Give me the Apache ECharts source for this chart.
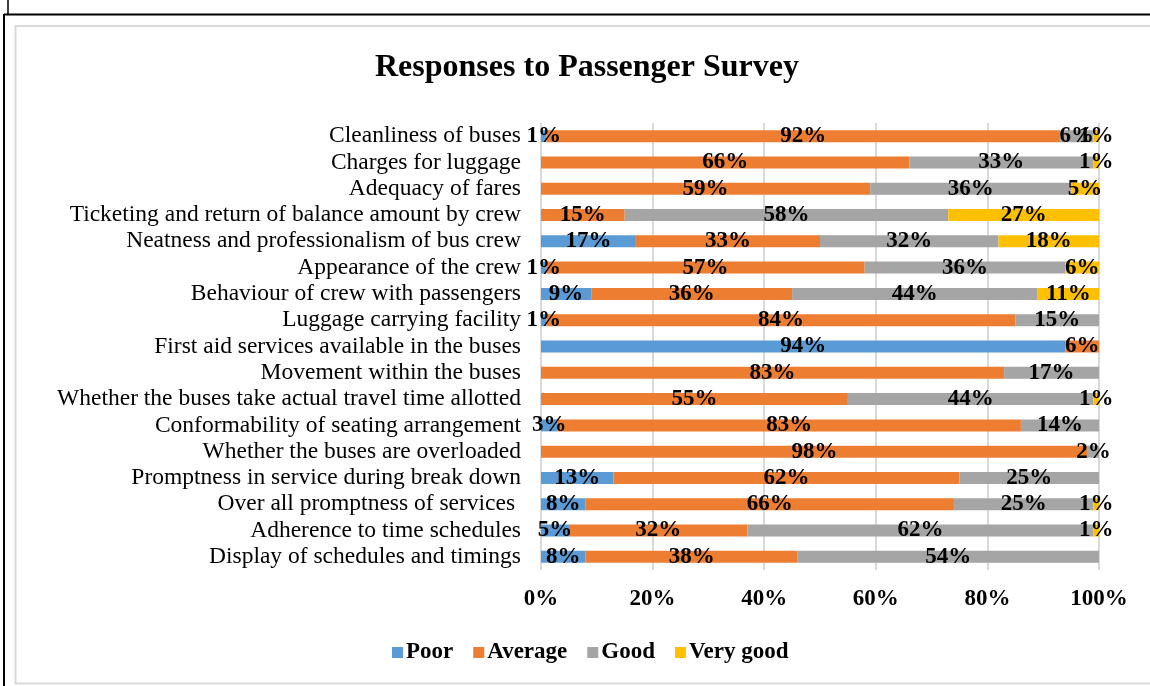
<!DOCTYPE html>
<html>
<head>
<meta charset="utf-8">
<script src="https://cdn.jsdelivr.net/npm/echarts@6/dist/echarts.min.js"></script>
<style>
  html, body { margin: 0; padding: 0; background: #fff; }
  #chart { width: 1150px; height: 686px; }
</style>
</head>
<body>
<div id="chart"></div>
<script>
const categories = [
  "Cleanliness of buses",
  "Charges for luggage",
  "Adequacy of fares",
  "Ticketing and return of balance amount by crew",
  "Neatness and professionalism of bus crew",
  "Appearance of the crew",
  "Behaviour of crew with passengers",
  "Luggage carrying facility",
  "First aid services available in the buses",
  "Movement within the buses",
  "Whether the buses take actual travel time allotted",
  "Conformability of seating arrangement",
  "Whether the buses are overloaded",
  "Promptness in service during break down",
  "Over all promptness of services ",
  "Adherence to time schedules",
  "Display of schedules and timings"
]
const poor     = [1, 0, 0, 0, 17, 1, 9, 1, 94, 0, 0, 3, 0, 13, 8, 5, 8]
const average  = [92, 66, 59, 15, 33, 57, 36, 84, 6, 83, 55, 83, 98, 62, 66, 32, 38]
const good     = [6, 33, 36, 58, 32, 36, 44, 15, 0, 17, 44, 14, 2, 25, 25, 62, 54]
const veryGood = [1, 1, 5, 27, 18, 6, 11, 0, 0, 0, 1, 0, 0, 0, 1, 1, 0]
const tickValues = [0, 20, 40, 60, 80, 100]

const serif = "'Liberation Serif', 'Times New Roman', serif"

const makeSeries = (name, data, color) => ({
  name: name,
  type: "bar",
  stack: "total",
  barWidth: 12,
  data: data,
  itemStyle: { color: color },
  label: {
    show: true,
    position: "inside",
    color: "#000",
    fontFamily: serif,
    fontWeight: "bold",
    fontSize: 23,
    formatter: p => (p.value ? p.value + "%" : "")
  },
  emphasis: { disabled: true }
})

let myChart = echarts.init(document.getElementById("chart"))
myChart.setOption({
  animation: false,
  title: {
    text: "Responses to Passenger Survey",
    left: 370,
    top: 47,
    textStyle: {
      fontFamily: serif,
      fontWeight: "bold",
      fontSize: 32,
      color: "#000"
    }
  },
  legend: {
    data: ["Poor", "Average", "Good", "Very good"],
    left: 387,
    top: 636,
    itemWidth: 11,
    itemHeight: 11,
    itemGap: 20,
    icon: "rect",
    textStyle: {
      fontFamily: serif,
      fontWeight: "bold",
      fontSize: 23,
      color: "#000",
      padding: [0, 0, 0, -2]
    }
  },
  grid: {
    left: 541,
    right: 51,
    top: 123,
    bottom: 116,
    containLabel: false
  },
  xAxis: {
    type: "value",
    min: tickValues[0],
    max: tickValues[tickValues.length - 1],
    interval: 20,
    axisLine: { show: false },
    axisTick: { show: false },
    splitLine: { show: true, lineStyle: { color: "#d9d9d9", width: 2 } },
    axisLabel: {
      formatter: "{value}%",
      margin: 18,
      fontFamily: serif,
      fontWeight: "bold",
      fontSize: 23,
      color: "#000"
    }
  },
  yAxis: {
    type: "category",
    inverse: true,
    data: categories,
    axisLine: { show: false },
    axisTick: { show: false },
    axisLabel: {
      interval: 0,
      margin: 20,
      padding: [4, 0, 0, 0],
      fontFamily: serif,
      fontSize: 23.5,
      color: "#000"
    }
  },
  graphic: [
    { type: "rect", shape: { x: 15.5, y: 26, width: 1150, height: 657.5 },
      style: { fill: "none", stroke: "#d9d9d9", lineWidth: 2 }, z: -1 },
    { type: "line", shape: { x1: 4, y1: 14.5, x2: 1150, y2: 14.5 },
      style: { stroke: "#000", lineWidth: 2 } },
    { type: "line", shape: { x1: 4, y1: 14, x2: 4, y2: 686 },
      style: { stroke: "#000", lineWidth: 2 } },
    { type: "line", shape: { x1: 8, y1: 0, x2: 8, y2: 14 },
      style: { stroke: "#000", lineWidth: 1.5 } }
  ],
  series: [
    makeSeries("Poor", poor, "#5b9bd5"),
    makeSeries("Average", average, "#ed7d31"),
    makeSeries("Good", good, "#a5a5a5"),
    makeSeries("Very good", veryGood, "#ffc000")
  ]
})
</script>
</body>
</html>
